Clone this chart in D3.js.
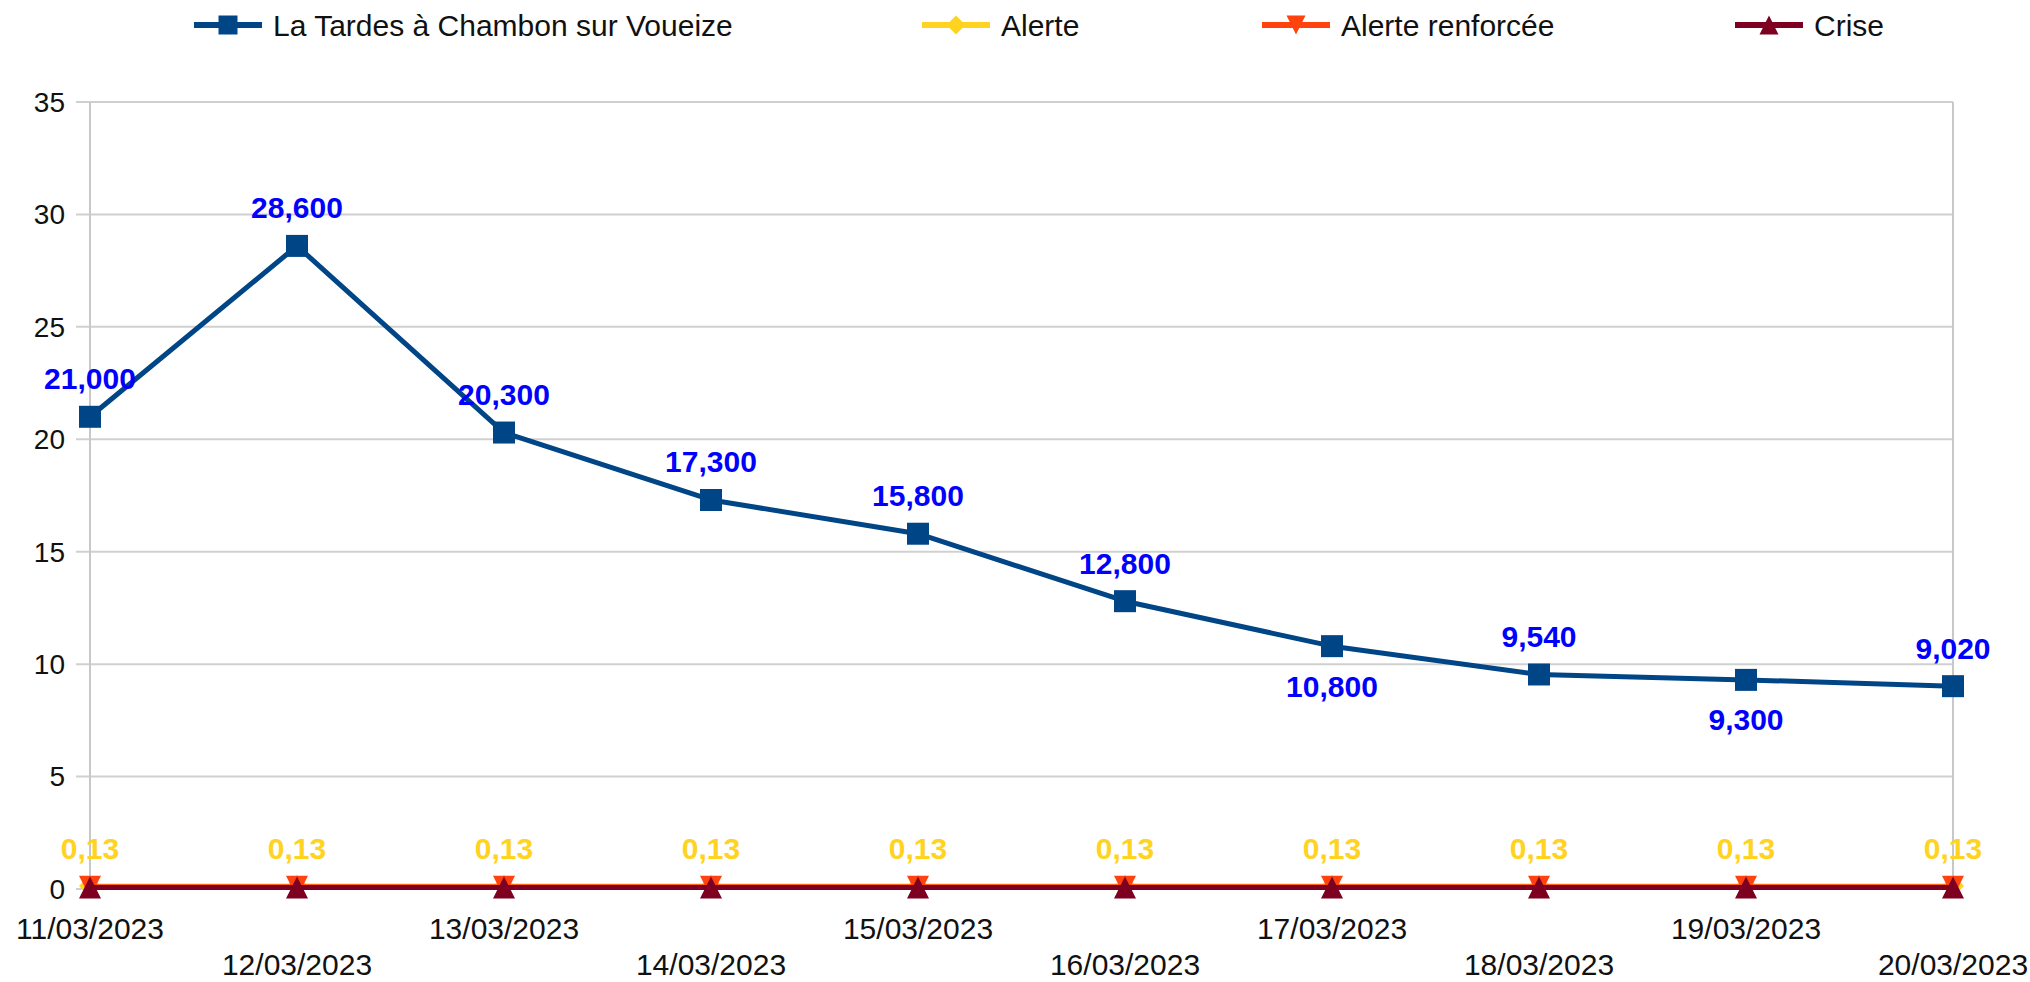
<!DOCTYPE html>
<html>
<head>
<meta charset="utf-8">
<script src="https://cdn.jsdelivr.net/npm/d3@7"></script>
<style>
  body { margin: 0; background: #fff; }
  text { font-family: "Liberation Sans", Arial, sans-serif; }
</style>
</head>
<body>
<div id="chart"></div>
<script>
// categories and values
var dates = ["11/03/2023", "12/03/2023", "13/03/2023", "14/03/2023", "15/03/2023",
             "16/03/2023", "17/03/2023", "18/03/2023", "19/03/2023", "20/03/2023"];
var debit = [21.0, 28.6, 20.3, 17.3, 15.8, 12.8, 10.8, 9.54, 9.3, 9.02];
var debitLabelPos = ["above", "above", "above", "above", "above", "above", "below", "above", "below", "above"];
var alerte = [0.13, 0.13, 0.13, 0.13, 0.13, 0.13, 0.13, 0.13, 0.13, 0.13];
var alerteRenforcee = [0.1, 0.1, 0.1, 0.1, 0.1, 0.1, 0.1, 0.1, 0.1, 0.1];
var crise = [0.07, 0.07, 0.07, 0.07, 0.07, 0.07, 0.07, 0.07, 0.07, 0.07];
var yTicks = [0, 5, 10, 15, 20, 25, 30, 35];
var seriesNames = ["La Tardes à Chambon sur Voueize", "Alerte", "Alerte renforcée", "Crise"];

var width = 2030, height = 982;
var margin = {top: 102, right: 77, bottom: 93, left: 90};

var svg = d3.select("#chart").append("svg")
    .attr("width", width)
    .attr("height", height);

var x = d3.scalePoint()
    .domain(dates)
    .range([margin.left, width - margin.right]);
var y = d3.scaleLinear()
    .domain([0, 35])
    .range([height - margin.bottom, margin.top]);

// labels written like the original: 21,000 / 0,13
function labelBig(v) { return d3.format(".3f")(v).replace(".", ","); }
function labelSmall(v) { return String(v).replace(".", ","); }

// horizontal grid
svg.append("g")
  .selectAll("line")
  .data(yTicks)
  .enter().append("line")
    .attr("x1", margin.left - 14)
    .attr("x2", width - margin.right)
    .attr("y1", function(d) { return y(d); })
    .attr("y2", function(d) { return y(d); })
    .style("stroke", "#d0d0d0")
    .style("stroke-width", 2);

// left axis and right border
[x(dates[0]), x(dates[dates.length - 1])].forEach(function(px) {
  svg.append("line")
    .attr("x1", px).attr("x2", px)
    .attr("y1", y(35)).attr("y2", y(0) + 8)
    .style("stroke", "#c8c8c8")
    .style("stroke-width", 2);
});

// small category ticks under the axis
svg.append("g")
  .selectAll("line")
  .data(dates)
  .enter().append("line")
    .attr("x1", function(d) { return x(d); })
    .attr("x2", function(d) { return x(d); })
    .attr("y1", y(0))
    .attr("y2", y(0) + 8)
    .style("stroke", "#c8c8c8")
    .style("stroke-width", 2);

// y labels
svg.append("g")
  .selectAll("text")
  .data(yTicks)
  .enter().append("text")
    .attr("x", 65)
    .attr("y", function(d) { return y(d); })
    .attr("dy", "0.35em")
    .attr("text-anchor", "end")
    .style("font-size", "28px")
    .style("fill", "#111")
    .text(function(d) { return d; });

// x labels, staggered on two rows
svg.append("g")
  .selectAll("text")
  .data(dates)
  .enter().append("text")
    .attr("x", function(d) { return x(d); })
    .attr("y", function(d, i) { return i % 2 === 0 ? 928 : 964; })
    .attr("dy", "0.35em")
    .attr("text-anchor", "middle")
    .style("font-size", "30px")
    .style("fill", "#111")
    .text(function(d) { return d; });

var line = d3.line()
    .x(function(d, i) { return x(dates[i]); })
    .y(function(d) { return y(d); });

// marker paths
function markerPath(type, s) {
  var h = s / 2;
  if (type === "square") return "M" + (-h) + "," + (-h) + "h" + s + "v" + s + "h" + (-s) + "Z";
  if (type === "diamond") return "M0," + (-h) + "L" + h + ",0L0," + h + "L" + (-h) + ",0Z";
  if (type === "down") return "M" + (-h) + "," + (-h) + "L" + h + "," + (-h) + "L0," + h + "Z";
  return "M" + (-h) + "," + h + "L" + h + "," + h + "L0," + (-h) + "Z";
}

var series = [
  {name: seriesNames[1], values: alerte, color: "#ffd320", marker: "diamond"},
  {name: seriesNames[2], values: alerteRenforcee, color: "#ff420e", marker: "down"},
  {name: seriesNames[3], values: crise, color: "#7e0021", marker: "up"},
  {name: seriesNames[0], values: debit, color: "#004586", marker: "square"}
];

series.forEach(function(s) {
  svg.append("path")
    .datum(s.values)
    .attr("d", line)
    .style("fill", "none")
    .style("stroke", s.color)
    .style("stroke-width", 5)
    .style("stroke-linejoin", "round");
  svg.append("g")
    .selectAll("path")
    .data(s.values)
    .enter().append("path")
      .attr("transform", function(d, i) { return "translate(" + x(dates[i]) + "," + y(d) + ")"; })
      .attr("d", markerPath(s.marker, 22))
      .style("fill", s.color);
});

// data labels
svg.append("g")
  .selectAll("text")
  .data(debit)
  .enter().append("text")
    .attr("x", function(d, i) { return x(dates[i]); })
    .attr("y", function(d, i) { return y(d) + (debitLabelPos[i] === "above" ? -38 : 40); })
    .attr("dy", "0.35em")
    .attr("text-anchor", "middle")
    .style("font-size", "30px")
    .style("font-weight", "bold")
    .style("fill", "#0000ff")
    .text(labelBig);

svg.append("g")
  .selectAll("text")
  .data(alerte)
  .enter().append("text")
    .attr("x", function(d, i) { return x(dates[i]); })
    .attr("y", function(d) { return y(d) - 38; })
    .attr("dy", "0.35em")
    .attr("text-anchor", "middle")
    .style("font-size", "30px")
    .style("font-weight", "bold")
    .style("fill", "#ffd320")
    .text(labelSmall);

// legend
var legendX = [194, 922, 1262, 1735];
var legendOrder = [series[3], series[0], series[1], series[2]];
var legend = svg.append("g").attr("transform", "translate(0,25)");
legendOrder.forEach(function(s, i) {
  var g = legend.append("g").attr("transform", "translate(" + legendX[i] + ",0)");
  g.append("line")
    .attr("x1", 0).attr("x2", 68)
    .attr("y1", 0).attr("y2", 0)
    .style("stroke", s.color)
    .style("stroke-width", 6);
  g.append("path")
    .attr("transform", "translate(34,0)")
    .attr("d", markerPath(s.marker, 19))
    .style("fill", s.color);
  g.append("text")
    .attr("x", 79)
    .attr("y", 0)
    .attr("dy", "0.35em")
    .style("font-size", "30px")
    .style("fill", "#111")
    .text(s.name);
});
</script>
</body>
</html>
